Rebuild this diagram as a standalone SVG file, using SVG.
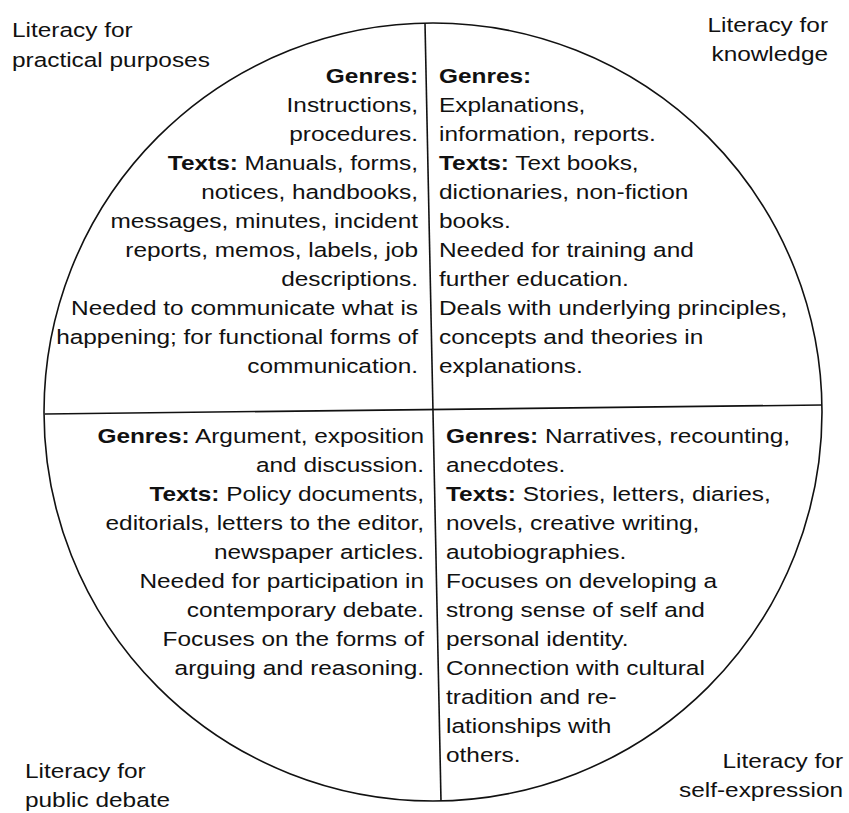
<svg xmlns="http://www.w3.org/2000/svg" width="849" height="813" viewBox="0 0 849 813">
  <style>
    text { font-family: "Liberation Sans", Arial, Helvetica, sans-serif; font-size: 20.5px; fill: #111; }
    .b { font-weight: bold; }
    .end { text-anchor: end; }
    .line { fill: none; stroke: #111; stroke-width: 1.6; }
  </style>
  <rect width="849" height="813" fill="#fff"/>

  <!-- wheel: outer circle and the two dividing lines -->
  <g id="connectors">
    <circle class="line" cx="433" cy="412" r="389"/>
    <line class="line" x1="425" y1="23" x2="441" y2="801"/>
    <line class="line" x1="45" y1="414" x2="822" y2="405"/>
  </g>

  <!-- quadrant: practical purposes (right-aligned) -->
  <g id="practical" transform="translate(418 0) scale(1.19 1)">
    <text class="end" x="0" y="83"><tspan class="b">Genres:</tspan></text>
    <text class="end" x="0" y="112">Instructions,</text>
    <text class="end" x="0" y="141">procedures.</text>
    <text class="end" x="0" y="170"><tspan class="b">Texts:</tspan> Manuals, forms,</text>
    <text class="end" x="0" y="199">notices, handbooks,</text>
    <text class="end" x="0" y="228">messages, minutes, incident</text>
    <text class="end" x="0" y="257">reports, memos, labels, job</text>
    <text class="end" x="0" y="286">descriptions.</text>
    <text class="end" x="0" y="315">Needed to communicate what is</text>
    <text class="end" x="0" y="344">happening; for functional forms of</text>
    <text class="end" x="0" y="373">communication.</text>
  </g>

  <!-- quadrant: knowledge (left-aligned) -->
  <g id="knowledge" transform="translate(439 0) scale(1.19 1)">
    <text x="0" y="83"><tspan class="b">Genres:</tspan></text>
    <text x="0" y="112">Explanations,</text>
    <text x="0" y="141">information, reports.</text>
    <text x="0" y="170"><tspan class="b">Texts:</tspan> Text books,</text>
    <text x="0" y="199">dictionaries, non-fiction</text>
    <text x="0" y="228">books.</text>
    <text x="0" y="257">Needed for training and</text>
    <text x="0" y="286">further education.</text>
    <text x="0" y="315">Deals with underlying principles,</text>
    <text x="0" y="344">concepts and theories in</text>
    <text x="0" y="373">explanations.</text>
  </g>

  <!-- quadrant: public debate (right-aligned) -->
  <g id="debate" transform="translate(424 0) scale(1.19 1)">
    <text class="end" x="0" y="443"><tspan class="b">Genres:</tspan> Argument, exposition</text>
    <text class="end" x="0" y="472">and discussion.</text>
    <text class="end" x="0" y="501"><tspan class="b">Texts:</tspan> Policy documents,</text>
    <text class="end" x="0" y="530">editorials, letters to the editor,</text>
    <text class="end" x="0" y="559">newspaper articles.</text>
    <text class="end" x="0" y="588">Needed for participation in</text>
    <text class="end" x="0" y="617">contemporary debate.</text>
    <text class="end" x="0" y="646">Focuses on the forms of</text>
    <text class="end" x="0" y="675">arguing and reasoning.</text>
  </g>

  <!-- quadrant: self-expression (left-aligned) -->
  <g id="self-expression" transform="translate(446 0) scale(1.19 1)">
    <text x="0" y="443"><tspan class="b">Genres:</tspan> Narratives, recounting,</text>
    <text x="0" y="472">anecdotes.</text>
    <text x="0" y="501"><tspan class="b">Texts:</tspan> Stories, letters, diaries,</text>
    <text x="0" y="530">novels, creative writing,</text>
    <text x="0" y="559">autobiographies.</text>
    <text x="0" y="588">Focuses on developing a</text>
    <text x="0" y="617">strong sense of self and</text>
    <text x="0" y="646">personal identity.</text>
    <text x="0" y="675">Connection with cultural</text>
    <text x="0" y="704">tradition and re-</text>
    <text x="0" y="733">lationships with</text>
    <text x="0" y="762">others.</text>
  </g>

  <!-- outer captions -->
  <g id="label-practical" transform="translate(12 0) scale(1.19 1)">
    <text x="0" y="37">Literacy for</text>
    <text x="0" y="67">practical purposes</text>
  </g>
  <g id="label-knowledge" transform="translate(828 0) scale(1.19 1)">
    <text class="end" x="0" y="32">Literacy for</text>
    <text class="end" x="0" y="61">knowledge</text>
  </g>
  <g id="label-debate" transform="translate(25 0) scale(1.19 1)">
    <text x="0" y="778">Literacy for</text>
    <text x="0" y="807">public debate</text>
  </g>
  <g id="label-self" transform="translate(843 0) scale(1.19 1)">
    <text class="end" x="0" y="768">Literacy for</text>
    <text class="end" x="0" y="797">self-expression</text>
  </g>
</svg>
